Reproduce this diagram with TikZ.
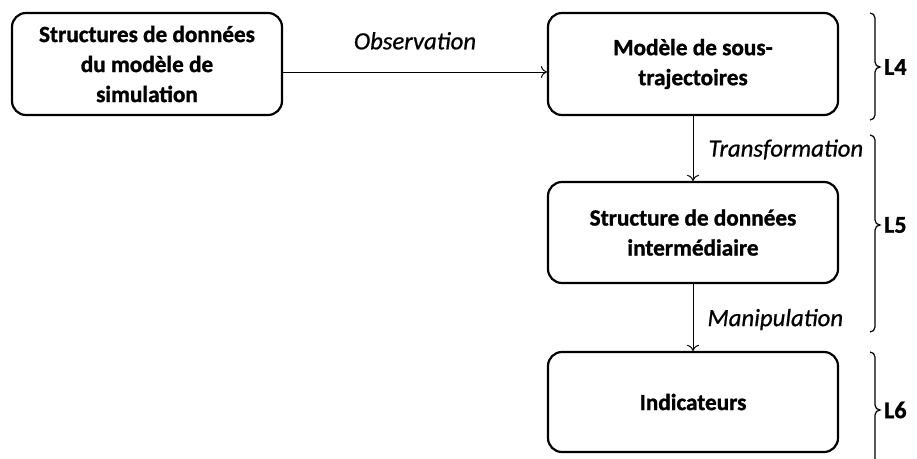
\documentclass[tikz,border=0pt]{standalone}
\usepackage{fontspec}
\setmainfont{Carlito}[BoldFeatures={FakeBold=1.2},ItalicFeatures={FakeBold=0.7}]
\usetikzlibrary{arrows.meta}
\begin{document}
\begin{tikzpicture}[x=1pt,y=-1pt,
  box/.style={draw, line width=2.2pt, rounded corners=14pt, align=center,
    font=\fontsize{23.2}{30}\selectfont\bfseries, inner sep=0pt},
  conn/.style={line width=1pt, -{To[length=6pt,width=12pt]}},
  lbl/.style={font=\fontsize{24.8}{28}\selectfont\itshape, inner sep=0pt},
  brace/.style={line width=1.2pt},
  lvl/.style={font=\fontsize{24}{28}\selectfont\bfseries, anchor=west, inner sep=0pt}]
\useasboundingbox (0,0) rectangle (917,458);
\node[box, minimum width=270pt, minimum height=102pt] (b1) at (147,64) {Structures de données\\du modèle de\\simulation};
\node[box, minimum width=290pt, minimum height=102pt] (b2) at (693,64) {Modèle de sous-\\trajectoires};
\node[box, minimum width=290pt, minimum height=101pt] (b3) at (693,232.5) {Structure de données\\intermédiaire};
\node[box, minimum width=290pt, minimum height=100pt] (b4) at (693,402) {Indicateurs};
\draw[conn] ([yshift=-8pt]b1.east) -- node[lbl, above=22pt] {Observation} ([yshift=-8pt]b2.west);
\draw[conn] (b2.south) -- node[lbl, anchor=west, xshift=15pt, yshift=-1pt] (t1) {Transformation} (b3.north);
\draw[conn] (b3.south) -- node[lbl, anchor=west, xshift=14pt, yshift=-2pt] (t2) {Manipulation} (b4.north);
% braces
\draw[brace] (870,13) to[out=0,in=90] (875,18) -- (875,62) to[out=-90,in=180] (880,67) to[out=180,in=90] (875,72) -- (875,115) to[out=-90,in=0] (870,120);
\node[lvl] (l4) at (884,67) {L4};
\draw[brace] (870,135) to[out=0,in=90] (875,140) -- (875,220) to[out=-90,in=180] (880,225) to[out=180,in=90] (875,230) -- (875,327) to[out=-90,in=0] (870,332);
\node[lvl] (l5) at (884,225) {L5};
\draw[brace] (870,352) to[out=0,in=90] (875,357) -- (875,405) to[out=-90,in=180] (880,410) to[out=180,in=90] (875,415) -- (875,465);
\node[lvl] (l6) at (884,410) {L6};
\end{tikzpicture}
\end{document}
